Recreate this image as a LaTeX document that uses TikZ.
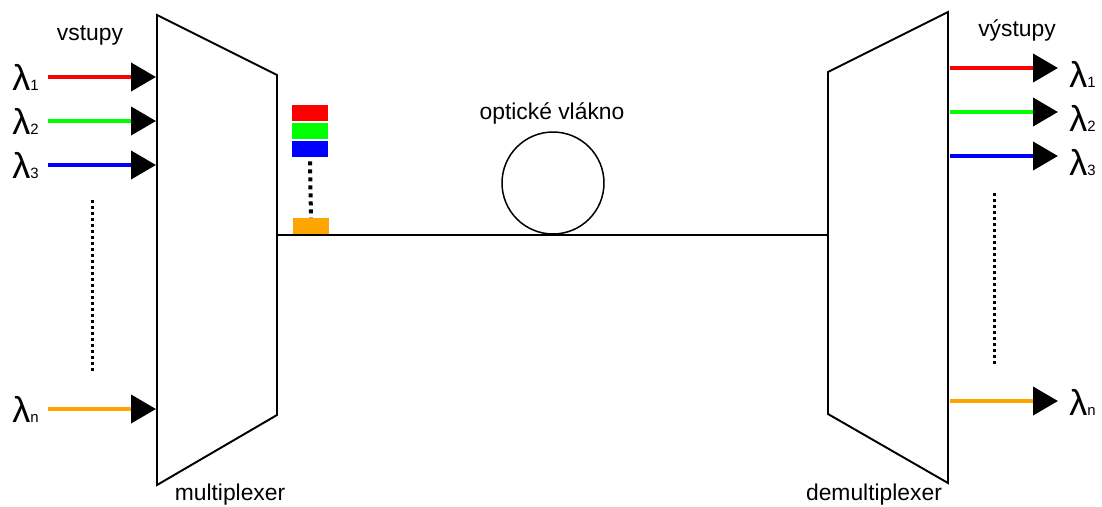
\documentclass[tikz,border=0pt]{standalone}
\usepackage{fontspec}
\setmainfont{Liberation Sans}
\usetikzlibrary{arrows.meta}

\definecolor{amber}{HTML}{FFA500}
\tikzset{
    signal/.style={line width=0.08cm,-{Triangle[length=0.5cm,width=0.56cm,black]}},
    block/.style={minimum width=0.72cm,minimum height=0.32cm,inner sep=0pt},
    txt/.style={font=\fontsize{13}{15}\selectfont,inner sep=0pt},
    wave/.style={anchor=base west,inner sep=0pt},
    fewdots/.style={line width=0.06cm,dash pattern=on 0.06cm off 0.06cm},
}
\newcommand{\wl}[1]{{\fontsize{20.5}{21}\selectfont λ}{\fontsize{8.5}{9}\selectfont #1}}

\begin{document}
\begin{tikzpicture}[x=0.02cm,y=-0.02cm]
        \useasboundingbox (0,0) rectangle (1102,507);
        %% Multiplexer and demultiplexer
        \draw[line width=1.1pt] (157,15) coordinate (mux nw) -- (277,75) -- (277,415)
            -- (157,485) coordinate (mux sw) -- cycle;
        \draw[line width=1.1pt] (828,72) -- (948,12) coordinate (demux ne)
            -- (948,483) coordinate (demux se) -- (828,414) -- cycle;
        \node[txt] (mux) at (230,495) {multiplexer};
        \node[txt] (demux) at (874,495) {demultiplexer};
        \node[txt] (in) at (90,35) {vstupy};
        \node[txt] (out) at (1017,30) {výstupy};
        %% Inputs
        \coordinate (in1) at (48,77);   \coordinate (mux1) at (156,77);
        \coordinate (in2) at (48,121);  \coordinate (mux2) at (156,121);
        \coordinate (in3) at (48,165);  \coordinate (mux3) at (156,165);
        \coordinate (inn) at (48,409);  \coordinate (muxn) at (156,409);
        \draw[signal,red] (in1) -- (mux1);
        \draw[signal,green] (in2) -- (mux2);
        \draw[signal,blue] (in3) -- (mux3);
        \draw[signal,amber] (inn) -- (muxn);
        \node[wave] (l1) at (12,90) {\wl{1}};
        \node[wave] (l2) at (12,134) {\wl{2}};
        \node[wave] (l3) at (12,178) {\wl{3}};
        \node[wave] (ln) at (12,422) {\wl{n}};
        \coordinate (dt1) at (92,200);
        \coordinate (db1) at (92,372);
        \draw[fewdots] (dt1) -- (db1);
        %% Outputs
        \coordinate (demux1) at (950,68);  \coordinate (out1) at (1058,68);
        \coordinate (demux2) at (950,112); \coordinate (out2) at (1058,112);
        \coordinate (demux3) at (950,156); \coordinate (out3) at (1058,156);
        \coordinate (demuxn) at (950,401); \coordinate (outn) at (1058,401);
        \draw[signal,red] (demux1) -- (out1);
        \draw[signal,green] (demux2) -- (out2);
        \draw[signal,blue] (demux3) -- (out3);
        \draw[signal,amber] (demuxn) -- (outn);
        \node[wave] (r1) at (1069,87) {\wl{1}};
        \node[wave] (r2) at (1069,131) {\wl{2}};
        \node[wave] (r3) at (1069,175) {\wl{3}};
        \node[wave] (rn) at (1069,415) {\wl{n}};
        \coordinate (dt2) at (994,193);
        \coordinate (db2) at (994,365);
        \draw[fewdots] (dt2) -- (db2);
        %% Fibre with the multiplexed signal
        \coordinate (fa) at (277,235);
        \coordinate (fb) at (828,235);
        \draw[line width=0.85pt] (fa) -- (fb);
        \node[draw,circle,line width=0.85pt,minimum size=2.04cm,inner sep=0pt]
            (coil) at (553,183) {};
        \node[txt] (fibre) at (552,113) {optické vlákno};
        \node[block,fill=red] (b1) at (310,113) {};
        \node[block,fill=green] (b2) at (310,131) {};
        \node[block,fill=blue] (b3) at (310,149) {};
        \node[block,fill=amber] (bn) at (311,226) {};
        \draw[line width=0.08cm,dash pattern=on 0.08cm off 0.08cm]
            ([yshift=-0.08cm]b3.south) -- (bn.north);
\end{tikzpicture}
\end{document}
